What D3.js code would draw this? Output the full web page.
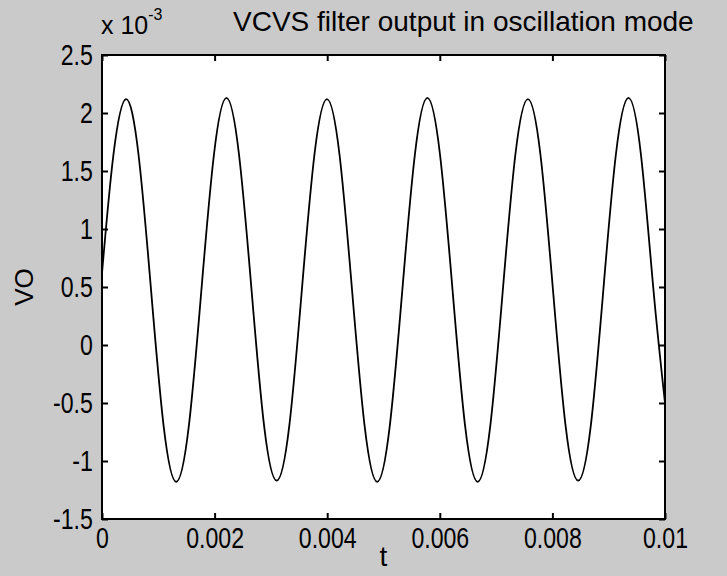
<!DOCTYPE html>
<html>
<head>
<meta charset="utf-8">
<script src="https://cdn.jsdelivr.net/npm/d3@7"></script>
<style>
body { margin:0; background:#cacaca; }
text { font-family:"Liberation Sans", Arial, sans-serif; fill:#000; }
</style>
</head>
<body>
<script>
// points: t in seconds, VO in volts
var tSec = [0, 0.000203, 0.000426, 0.000649, 0.000872, 0.001095, 0.001318, 0.001542, 0.001765, 0.001988,
	0.002211, 0.002434, 0.002657, 0.002880, 0.003103, 0.003326, 0.003549, 0.003773,
	0.003996, 0.004219, 0.004442, 0.004665, 0.004888, 0.005111, 0.005334, 0.005557,
	0.005780, 0.006004, 0.006227, 0.006450, 0.006673, 0.006896, 0.007119, 0.007342,
	0.007565, 0.007788, 0.008011, 0.008235, 0.008458, 0.008681, 0.008904, 0.009127,
	0.009350, 0.009573, 0.009796, 0.010000];
var voVolt = [0.00062, 0.00164, 0.00212, 0.00164, 0.00047, -0.00070, -0.00118, -0.00070, 0.00047, 0.00164,
	0.00213, 0.00164, 0.00047, -0.00070, -0.00117, -0.00070, 0.00047, 0.00164,
	0.00212, 0.00164, 0.00047, -0.00070, -0.00118, -0.00070, 0.00047, 0.00164,
	0.00213, 0.00164, 0.00047, -0.00070, -0.00118, -0.00070, 0.00047, 0.00164,
	0.00212, 0.00164, 0.00047, -0.00070, -0.00117, -0.00070, 0.00047, 0.00164,
	0.00213, 0.00164, 0.00047, -0.00050];

var xTickVals = [0, 0.002, 0.004, 0.006, 0.008, 0.01];
var xTickLabels = ["0", "0.002", "0.004", "0.006", "0.008", "0.01"];
var yTickVals = [-0.0015, -0.001, -0.0005, 0, 0.0005, 0.001, 0.0015, 0.002, 0.0025];
var yTickLabels = ["-1.5", "-1", "-0.5", "0", "0.5", "1", "1.5", "2", "2.5"];
var titleText = "VCVS filter output in oscillation mode";
var xLabelText = "t";
var yLabelText = "VO";

var width = 727;
var height = 576;
var margin = {left:102, right:62, top:55, bottom:57};
var plotW = width - margin.left - margin.right;
var plotH = height - margin.top - margin.bottom;
var squeeze = 0.77; // scanned labels look tall and narrow

var svg = d3.select("body").append("svg").attr("width",width).attr("height",height);
svg.append("rect").attr("width",width).attr("height",height).attr("fill","#cacaca");

var x = d3.scaleLinear().domain([0,0.01]).range([0,plotW]);
var y = d3.scaleLinear().domain([-0.0015,0.0025]).range([plotH,0]);

var chartGroup = svg.append("g").attr("transform","translate("+margin.left+","+margin.top+")");

chartGroup.append("rect")
	.attr("width",plotW).attr("height",plotH)
	.attr("fill","#fff");

var line = d3.line()
	.x(function(d,i){ return x(tSec[i]); })
	.y(function(d){ return y(d); })
	.curve(d3.curveNatural);

chartGroup.append("path")
	.datum(voVolt)
	.attr("d",line)
	.attr("fill","none")
	.attr("stroke","#000")
	.attr("stroke-width",1.8);

// ticks on all four sides, pointing in
function labelX(d){ return xTickLabels[xTickVals.indexOf(d)]; }
function labelY(d){ return yTickLabels[yTickVals.indexOf(d)]; }

chartGroup.append("g")
	.attr("transform","translate(0,"+plotH+")")
	.call(d3.axisBottom(x).tickValues(xTickVals).tickFormat(labelX).tickSizeInner(-6).tickSizeOuter(0).tickPadding(8));
chartGroup.append("g")
	.call(d3.axisTop(x).tickValues(xTickVals).tickFormat("").tickSizeInner(-6).tickSizeOuter(0));
chartGroup.append("g")
	.call(d3.axisLeft(y).tickValues(yTickVals).tickFormat(labelY).tickSizeInner(-6).tickSizeOuter(0).tickPadding(12));
chartGroup.append("g")
	.attr("transform","translate("+plotW+",0)")
	.call(d3.axisRight(y).tickValues(yTickVals).tickFormat("").tickSizeInner(-6).tickSizeOuter(0));

chartGroup.selectAll(".domain").remove();
chartGroup.selectAll(".tick line").attr("stroke","#000").attr("stroke-width",2);
chartGroup.selectAll(".tick text")
	.attr("font-size",30)
	.attr("font-family","Liberation Sans, Arial, sans-serif")
	.attr("transform","scale("+squeeze+",1)");

chartGroup.append("rect")
	.attr("width",plotW).attr("height",plotH)
	.attr("fill","none")
	.attr("stroke","#000")
	.attr("stroke-width",2);

// title and labels
svg.append("text")
	.attr("x",233).attr("y",31)
	.attr("font-size",28)
	.text(titleText);

var expo = svg.append("text").attr("x",101).attr("y",34).attr("font-size",25);
expo.append("tspan").text("x 10");
expo.append("tspan").attr("dy",-14).attr("font-size",16).text("-3");

svg.append("text")
	.attr("x",margin.left+plotW/2).attr("y",566)
	.attr("text-anchor","middle")
	.attr("font-size",28)
	.text(xLabelText);

svg.append("text")
	.attr("transform","translate(33,"+(margin.top+plotH/2)+") rotate(-90)")
	.attr("text-anchor","middle")
	.attr("font-size",26)
	.text(yLabelText);
</script>
</body>
</html>
